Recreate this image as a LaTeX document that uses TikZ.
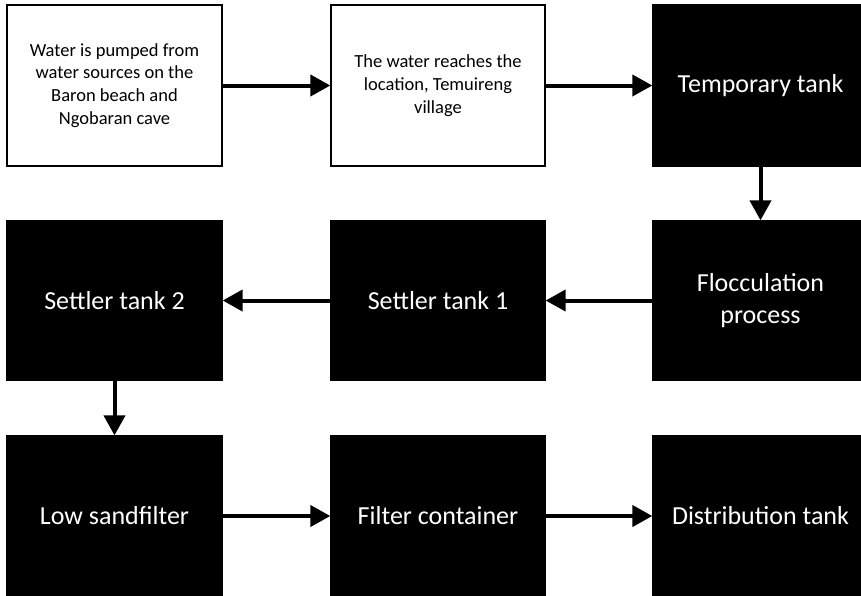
\documentclass[tikz,border=0pt]{standalone}
\usepackage{fontspec}
\setmainfont{Carlito}
\usetikzlibrary{arrows.meta}
\begin{document}
\begin{tikzpicture}[x=1pt,y=-1pt,
  wbox/.style={draw=black, line width=1.3pt, fill=white, inner sep=0pt, align=center,
    font=\fontsize{18.5}{22.7}\selectfont},
  bbox/.style={draw=black, line width=1.3pt, fill=black, text=white, inner sep=0pt, align=center,
    font=\fontsize{26}{32}\selectfont},
  flow/.style={line width=4pt, -{Triangle[length=20pt,width=21pt]}}]
\useasboundingbox (0,0) rectangle (861,595);
\fill[white] (0,0) rectangle (861,595);
\node[wbox, minimum width=215pt, minimum height=161pt] (n1) at (114.5,85.5)
  {Water is pumped from\\water sources on the\\Baron beach and\\Ngobaran cave};
\node[wbox, minimum width=214pt, minimum height=161pt] (n2) at (438,85.5)
  {The water reaches the\\location, Temuireng\\village};
\node[bbox, minimum width=215pt, minimum height=161pt] (n3) at (760.5,85.5) {Temporary tank};
\node[bbox, minimum width=215pt, minimum height=159pt] (n4) at (760.5,300.5) {Flocculation\\process};
\node[bbox, minimum width=214pt, minimum height=159pt] (n5) at (438,300.5) {Settler tank 1};
\node[bbox, minimum width=215pt, minimum height=159pt] (n6) at (114.5,300.5) {Settler tank 2};
\node[bbox, minimum width=215pt, minimum height=160pt] (n7) at (114.5,516) {Low sandfilter};
\node[bbox, minimum width=214pt, minimum height=160pt] (n8) at (438,516) {Filter container};
\node[bbox, minimum width=215pt, minimum height=160pt] (n9) at (760.5,516) {Distribution tank};
\draw[flow] (n1) -- (n2);
\draw[flow] (n2) -- (n3);
\draw[flow] (n3) -- (n4);
\draw[flow] (n4) -- (n5);
\draw[flow] (n5) -- (n6);
\draw[flow] (n6) -- (n7);
\draw[flow] (n7) -- (n8);
\draw[flow] (n8) -- (n9);
\end{tikzpicture}
\end{document}
